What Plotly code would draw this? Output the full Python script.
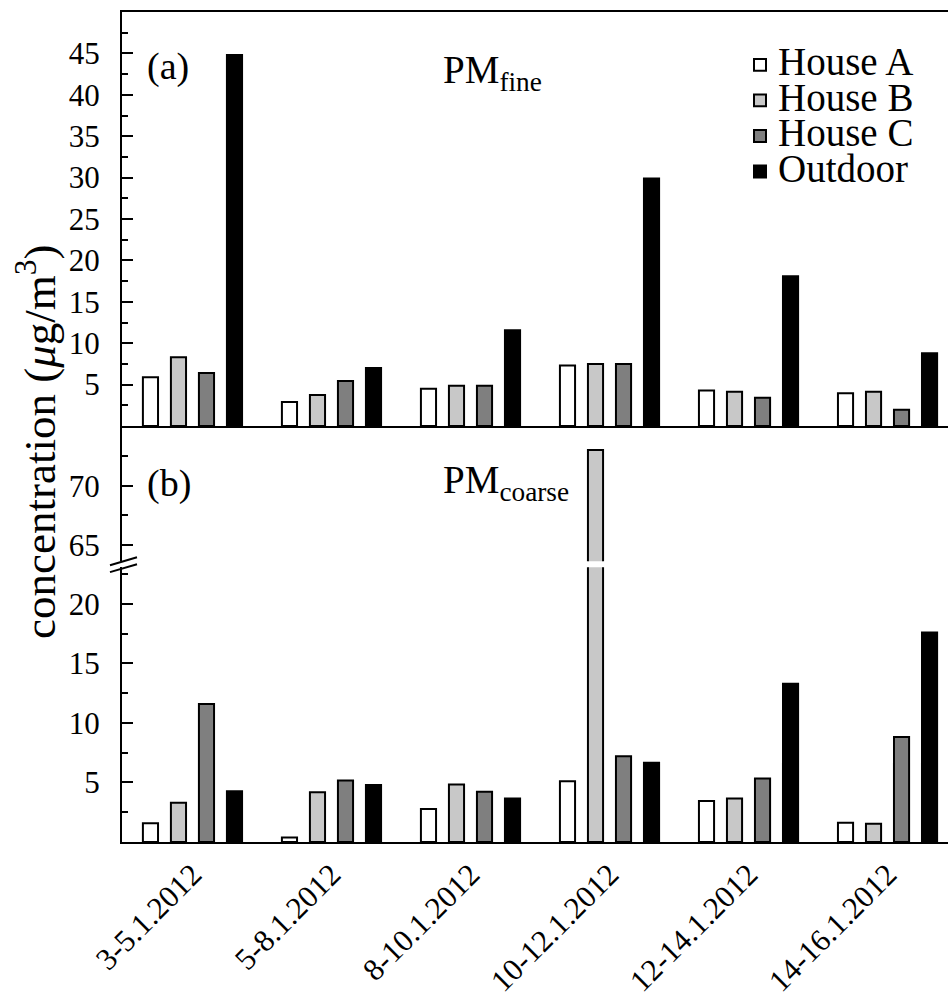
import plotly.graph_objects as go

categories = ["3-5.1.2012", "5-8.1.2012", "8-10.1.2012", "10-12.1.2012", "12-14.1.2012", "14-16.1.2012"]
series_names = ["House A", "House B", "House C", "Outdoor"]

fine_A = [5.9, 2.9, 4.5, 7.3, 4.3, 3.95]
fine_B = [8.3, 3.75, 4.85, 7.5, 4.15, 4.15]
fine_C = [6.4, 5.45, 4.85, 7.5, 3.4, 1.95]
fine_Out = [44.8, 7.0, 11.55, 29.9, 18.1, 8.8]

coarse_A = [1.57, 0.37, 2.77, 5.1, 3.44, 1.62]
coarse_B = [3.3, 4.17, 4.84, 73.0, 3.66, 1.54]
coarse_C = [11.6, 5.17, 4.22, 7.2, 5.34, 8.83]
coarse_Out = [4.27, 4.78, 3.66, 6.65, 13.3, 17.6]

fine_ticks = [5, 10, 15, 20, 25, 30, 35, 40, 45]
fine_minor = [2.5, 7.5, 12.5, 17.5, 22.5, 27.5, 32.5, 37.5, 42.5, 47.5]
upper_ticks = [65, 70]
upper_minor = [67.5, 72.5]
lower_ticks = [5, 10, 15, 20]
lower_minor = [2.5, 7.5, 12.5, 17.5, 22.5]

colors = ["#ffffff", "#c8c8c8", "#7f7f7f", "#000000"]
FONT = "Liberation Serif"

W, H = 948, 999
L, R, T, B = 122, 0, 12, 155
PW, PH = W - L - R, H - T - B


def px2x(px):
    return (px - L) / PW


def px2y(py):
    return (H - B - py) / PH


fig = go.Figure()

fine = [fine_A, fine_B, fine_C, fine_Out]
coarse = [coarse_A, coarse_B, coarse_C, coarse_Out]

for name, vals, col in zip(series_names, fine, colors):
    fig.add_trace(go.Bar(x=categories, y=vals, name=name, marker=dict(color=col, line=dict(color="black", width=2)),
                         xaxis="x2", yaxis="y", showlegend=False))
for name, vals, col in zip(series_names, coarse, colors):
    fig.add_trace(go.Bar(x=categories, y=vals, name=name, marker=dict(color=col, line=dict(color="black", width=2)),
                         xaxis="x", yaxis="y2", showlegend=False))
for name, vals, col in zip(series_names, coarse, colors):
    fig.add_trace(go.Bar(x=categories, y=vals, name=name, marker=dict(color=col, line=dict(color="black", width=2)),
                         xaxis="x", yaxis="y3", showlegend=False))

xrange = [-0.507, 5.435]
dom_a = [px2y(427), 1]
dom_up = [px2y(562.6), px2y(427)]
dom_lo = [0, px2y(568.6)]

yaxis_common = dict(showline=True, linecolor="black", linewidth=2, ticks="inside", ticklen=11, tickwidth=2,
                    tickcolor="black", showgrid=False, zeroline=False, ticklabelstandoff=14,
                    tickfont=dict(family=FONT, size=31, color="black"), tickmode="array")

fig.update_layout(
    width=W, height=H, margin=dict(l=L, r=R, t=T, b=B),
    plot_bgcolor="white", paper_bgcolor="white",
    barmode="group", bargap=0.194, bargroupgap=0.46,
    font=dict(family=FONT, color="black"),
    xaxis=dict(domain=[0, 1], anchor="y3", range=xrange, showline=True, linecolor="black", linewidth=2,
               ticks="", showgrid=False, tickangle=-45, tickfont=dict(family=FONT, size=31, color="black")),
    xaxis2=dict(domain=[0, 1], anchor="y", matches="x", range=xrange, showline=True, mirror=True,
                linecolor="black", linewidth=2, ticks="", showticklabels=False, showgrid=False),
    yaxis=dict(domain=dom_a, anchor="x2", range=[0, 50], tickvals=fine_ticks,
               minor=dict(ticks="inside", ticklen=6, tickwidth=2, tickcolor="black", tickmode="array", tickvals=fine_minor),
               **yaxis_common),
    yaxis2=dict(domain=dom_up, anchor="x", range=[63.64, 75.03], tickvals=upper_ticks,
                minor=dict(ticks="inside", ticklen=6, tickwidth=2, tickcolor="black", tickmode="array", tickvals=upper_minor),
                **yaxis_common),
    yaxis3=dict(domain=dom_lo, anchor="x", range=[0, 23.08], tickvals=lower_ticks,
                minor=dict(ticks="inside", ticklen=6, tickwidth=2, tickcolor="black", tickmode="array", tickvals=lower_minor),
                **yaxis_common),
)

# axis break marks
for dy in (-3.5, 3.5):
    fig.add_shape(type="line", xref="paper", yref="paper",
                  x0=px2x(110), y0=px2y(570 + dy), x1=px2x(137), y1=px2y(562 + dy),
                  line=dict(color="black", width=2))

# legend
for i, (name, col) in enumerate(zip(series_names, colors)):
    cy = 65 + i * 35.6
    fig.add_shape(type="rect", xref="paper", yref="paper",
                  x0=px2x(754), x1=px2x(766), y0=px2y(cy + 6), y1=px2y(cy - 6),
                  fillcolor=col, line=dict(color="black", width=2))
    fig.add_annotation(xref="paper", yref="paper", x=px2x(776), y=px2y(cy - 3), text=name, showarrow=False,
                       xanchor="left", yanchor="middle", font=dict(family=FONT, size=39, color="black"))

anns = [
    ("(a)", 145, 67, 38),
    ("PM<sub>fine</sub>", 441, 73, 39),
    ("(b)", 145, 485, 38),
    ("PM<sub>coarse</sub>", 441, 484, 39),
]
for txt, x, y, s in anns:
    fig.add_annotation(xref="paper", yref="paper", x=px2x(x), y=px2y(y), text=txt, showarrow=False,
                       xanchor="left", yanchor="middle", font=dict(family=FONT, size=s, color="black"))

fig.add_annotation(xref="paper", yref="paper", x=px2x(37), y=px2y(443),
                   text="concentration (<i>\u03bc</i>g/m<sup>3</sup>)", showarrow=False, textangle=-90,
                   xanchor="center", yanchor="middle", font=dict(family=FONT, size=45, color="black"))

fig.write_html("out.html", config={"displayModeBar": False},
               post_script="document.body.style.margin='0';document.body.style.overflow='hidden';")
